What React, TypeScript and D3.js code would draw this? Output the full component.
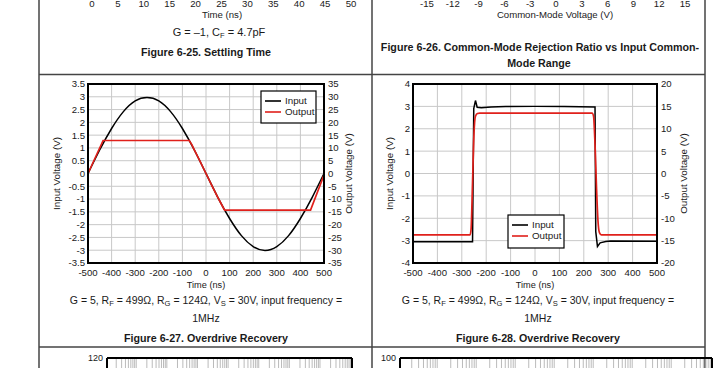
import React from 'react';
import * as d3 from 'd3';

const FONT = '"Liberation Sans", Arial, sans-serif';
const INK = '#1a1a1a';
const GRID = '#c8c8c8';

// top row (cut off charts)
const settleTicks = ['0', '5', '10', '15', '20', '25', '30', '35', '40', '45', '50'];
const cmrrTicks = ['-15', '-12', '-9', '-6', '-3', '0', '3', '6', '9', '12', '15'];

// shared time axis
const timeTicks = [-500, -400, -300, -200, -100, 0, 100, 200, 300, 400, 500];

// Figure 6-27
const f27LeftTicks = [-3.5, -3, -2.5, -2, -1.5, -1, -0.5, 0, 0.5, 1, 1.5, 2, 2.5, 3, 3.5];
const f27RightTicks = [-35, -30, -25, -20, -15, -10, -5, 0, 5, 10, 15, 20, 25, 30, 35];
const f27InTime = [-500, -450, -400, -350, -300, -250, -200, -150, -100, -50, 0, 50, 100, 150, 200, 250, 300, 350, 400, 450, 500];
const f27Input = [0, 0.93, 1.76, 2.42, 2.84, 2.97, 2.84, 2.42, 1.76, 0.93, 0, -0.93, -1.76, -2.43, -2.86, -3.01, -2.86, -2.43, -1.76, -0.93, 0];
const f27OutTime = [-500, -436, -71, -60, -50, -25, 0, 25, 50, 70, 79, 443, 500];
const f27Output = [0, 12.9, 12.9, 11.3, 9.3, 4.7, 0, -4.7, -9.3, -12.8, -14.3, -14.3, -0.6];

// Figure 6-28
const f28LeftTicks = [-4, -3, -2, -1, 0, 1, 2, 3, 4];
const f28RightTicks = [-20, -15, -10, -5, 0, 5, 10, 15, 20];
const f28InTime = [-500, -256, -251, -244, -237, -220, -180, -120, 0, 120, 246, 249, 256, 267, 290, 310, 500];
const f28Input = [-3.05, -3.05, 2.9, 3.26, 2.96, 2.94, 2.97, 2.99, 3.0, 2.99, 2.97, -2.6, -3.26, -3.1, -3.04, -3.02, -3.03];
const f28OutTime = [-500, -266, -262, -256, -250, -244, -236, -226, 234, 240, 246, 252, 258, 264, 272, 500];
const f28Output = [-13.7, -13.7, -12.5, -2, 9, 12.8, 13.4, 13.5, 13.5, 12.8, 6.5, -3, -10.5, -13.2, -13.7, -13.7];

const legendNames = ['Input', 'Output'];

type Props = {
  x0: number; x1: number; y0: number; y1: number;
  leftTicks: number[]; rightTicks: number[];
  inTime: number[]; inVals: number[]; outTime: number[]; outVals: number[];
  inCurve: d3.CurveFactory; outCurve: d3.CurveFactory;
  leftLabelX: number; rightLabelX: number;
  legend: { x: number; y: number; w: number; h: number };
};

function Overdrive(p: Props) {
  const x = d3.scaleLinear().domain([-500, 500]).range([p.x0, p.x1]);
  const yl = d3.scaleLinear().domain(d3.extent(p.leftTicks) as [number, number]).range([p.y1, p.y0]);
  const yr = d3.scaleLinear().domain(d3.extent(p.rightTicks) as [number, number]).range([p.y1, p.y0]);
  const inLine = d3.line<number>().x((_, i) => x(p.inTime[i])).y(v => yl(v)).curve(p.inCurve);
  const outLine = d3.line<number>().x((_, i) => x(p.outTime[i])).y(v => yr(v)).curve(p.outCurve);
  const midY = (p.y0 + p.y1) / 2;
  const lg = p.legend;
  return (
    <g fontFamily={FONT} fill={INK}>
      {timeTicks.map(t => (
        <line key={'gx' + t} x1={x(t)} x2={x(t)} y1={p.y0} y2={p.y1} stroke={GRID} strokeWidth={1} />
      ))}
      {p.leftTicks.map(t => (
        <line key={'gy' + t} x1={p.x0} x2={p.x1} y1={yl(t)} y2={yl(t)} stroke={GRID} strokeWidth={1} />
      ))}
      <path d={inLine(p.inVals) ?? ''} fill="none" stroke="#000" strokeWidth={1.5} />
      <path d={outLine(p.outVals) ?? ''} fill="none" stroke="#e0201b" strokeWidth={1.7} />
      <rect x={p.x0} y={p.y0} width={p.x1 - p.x0} height={p.y1 - p.y0} fill="none" stroke="#000" strokeWidth={2} />
      {p.leftTicks.map(t => (
        <text key={'l' + t} x={p.x0 - 3} y={yl(t) + 3.4} fontSize={9.6} textAnchor="end">{t}</text>
      ))}
      {p.rightTicks.map(t => (
        <text key={'r' + t} x={p.x1 + 4} y={yr(t) + 3.4} fontSize={9.6} textAnchor="start">{t}</text>
      ))}
      {timeTicks.map(t => (
        <text key={'x' + t} x={x(t)} y={p.y1 + 13} fontSize={9.6} textAnchor="middle">{t}</text>
      ))}
      <text x={(p.x0 + p.x1) / 2} y={p.y1 + 25} fontSize={9.2} textAnchor="middle">Time (ns)</text>
      <text transform={`translate(${p.leftLabelX},${midY}) rotate(-90)`} fontSize={9.8} textAnchor="middle">Input Voltage (V)</text>
      <text transform={`translate(${p.rightLabelX},${midY}) rotate(-90)`} fontSize={9.8} textAnchor="middle">Output Voltage (V)</text>
      <rect x={lg.x} y={lg.y} width={lg.w} height={lg.h} fill="#fff" stroke="#000" strokeWidth={1.2} />
      {legendNames.map((n, i) => {
        const ry = lg.y + 10 + i * 11;
        return (
          <g key={n}>
            <line x1={lg.x + 4} x2={lg.x + 20} y1={ry} y2={ry} stroke={i === 0 ? '#000' : '#e0201b'} strokeWidth={1.6} />
            <text x={lg.x + 24} y={ry + 3.4} fontSize={9.8}>{n}</text>
          </g>
        );
      })}
    </g>
  );
}

function Caption({ cx, fig }: { cx: number; fig: string }) {
  return (
    <g fontFamily={FONT} fill={INK} textAnchor="middle">
      <text x={cx} y={304} fontSize={10.5}>
        G = 5, R<tspan fontSize={7.6} dy={2}>F</tspan><tspan dy={-2}> = 499Ω, R</tspan>
        <tspan fontSize={7.6} dy={2}>G</tspan><tspan dy={-2}> = 124Ω, V</tspan>
        <tspan fontSize={7.6} dy={2}>S</tspan><tspan dy={-2}> = 30V, input frequency =</tspan>
      </text>
      <text x={cx} y={322} fontSize={10.5}>1MHz</text>
      <text x={cx} y={342} fontSize={10.7} fontWeight="bold">{`Figure ${fig}. Overdrive Recovery`}</text>
    </g>
  );
}

function LogGridTop({ x0, x1, label, labelX }: { x0: number; x1: number; label: string; labelX: number }) {
  const decades = 8;
  const x = d3.scaleLog().domain([1, 10 ** decades]).range([x0, x1]);
  const minor: number[] = [];
  for (let d = 0; d < decades; d++) for (let k = 2; k <= 9; k++) minor.push(k * 10 ** d);
  return (
    <g fontFamily={FONT} fill={INK}>
      {minor.map(v => (
        <line key={v} x1={x(v)} x2={x(v)} y1={358} y2={368} stroke="#bbb" strokeWidth={1} />
      ))}
      <line x1={x0} x2={x1} y1={358} y2={358} stroke="#000" strokeWidth={2} />
      <line x1={x0} x2={x0} y1={358} y2={368} stroke="#000" strokeWidth={2} />
      <line x1={x1} x2={x1} y1={358} y2={368} stroke="#000" strokeWidth={2} />
      <text x={labelX} y={361} fontSize={9} textAnchor="end">{label}</text>
    </g>
  );
}

export default function App() {
  const sx = d3.scaleLinear().domain([0, 10]).range([92, 351]);
  const cx = d3.scaleLinear().domain([0, 10]).range([427, 685]);
  return (
    <svg width={720} height={368} style={{ position: 'absolute', left: 0, top: 0, background: '#fff' }}>
      <rect width={720} height={368} fill="#fff" />
      {/* table rules */}
      <g stroke="#444" strokeWidth={1.5}>
        <line x1={39} x2={39} y1={0} y2={368} />
        <line x1={372} x2={372} y1={0} y2={368} />
        <line x1={705} x2={705} y1={0} y2={368} />
        <line x1={39} x2={705} y1={74.5} y2={74.5} />
        <line x1={39} x2={705} y1={347} y2={347} />
      </g>
      {/* top row remnants */}
      <g fontFamily={FONT} fill={INK}>
        {settleTicks.map((t, i) => (
          <text key={'s' + t} x={sx(i)} y={7} fontSize={9.6} textAnchor="middle">{t}</text>
        ))}
        <text x={222} y={18} fontSize={9.6} textAnchor="middle">Time (ns)</text>
        <text x={219} y={36} fontSize={11} textAnchor="middle">
          G = –1, C<tspan fontSize={7.6} dy={2}>F</tspan><tspan dy={-2}> = 4.7pF</tspan>
        </text>
        <text x={206} y={55.5} fontSize={10.7} fontWeight="bold" textAnchor="middle">Figure 6-25. Settling Time</text>
        {cmrrTicks.map((t, i) => (
          <text key={'c' + t} x={cx(i)} y={7} fontSize={9.6} textAnchor="middle">{t}</text>
        ))}
        <text x={555} y={18} fontSize={9.6} textAnchor="middle">Common-Mode Voltage (V)</text>
        <text x={540} y={51} fontSize={10.7} fontWeight="bold" textAnchor="middle">Figure 6-26. Common-Mode Rejection Ratio vs Input Common-</text>
        <text x={539} y={67} fontSize={10.7} fontWeight="bold" textAnchor="middle">Mode Range</text>
      </g>
      <Overdrive
        x0={88} x1={324} y0={84} y1={263}
        leftTicks={f27LeftTicks} rightTicks={f27RightTicks}
        inTime={f27InTime} inVals={f27Input} outTime={f27OutTime} outVals={f27Output}
        inCurve={d3.curveNatural} outCurve={d3.curveLinear}
        leftLabelX={60} rightLabelX={352}
        legend={{ x: 261, y: 91, w: 55, h: 32 }}
      />
      <Overdrive
        x0={413} x1={657} y0={84} y1={263}
        leftTicks={f28LeftTicks} rightTicks={f28RightTicks}
        inTime={f28InTime} inVals={f28Input} outTime={f28OutTime} outVals={f28Output}
        inCurve={d3.curveLinear} outCurve={d3.curveMonotoneX}
        leftLabelX={393} rightLabelX={687}
        legend={{ x: 508, y: 215, w: 56, h: 33 }}
      />
      <Caption cx={206} fig="6-27" />
      <Caption cx={538} fig="6-28" />
      <LogGridTop x0={107} x1={352} label="120" labelX={103} />
      <LogGridTop x0={400} x1={712} label="100" labelX={396} />
    </svg>
  );
}
